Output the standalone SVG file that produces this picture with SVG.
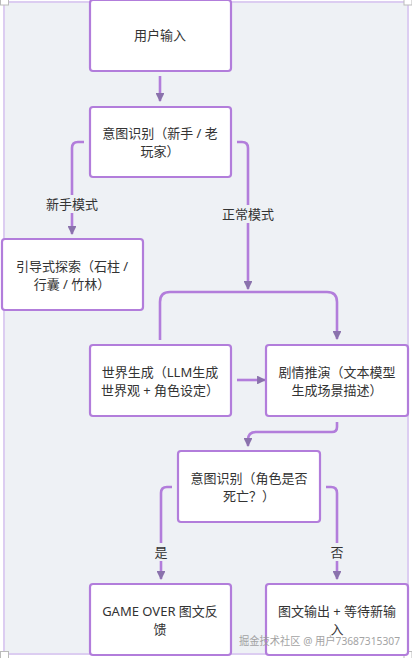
<svg xmlns="http://www.w3.org/2000/svg" width="412" height="658" viewBox="0 0 412 658">
<style>
.node rect{fill:#ffffff;stroke:#b27ddb;stroke-width:2.2}
.node text,.lbl text{font-family:"Noto Sans","Noto Sans CJK SC",sans-serif;font-size:13px;fill:#333333;text-anchor:middle;dominant-baseline:central}
.edge{fill:none;stroke:#b27ddb;stroke-width:2.6}
.lbl rect{fill:#eef1f5}
</style>
<defs>
<marker id="ah" viewBox="0 0 10 10" refX="9" refY="5" markerWidth="3.4" markerHeight="3.4" orient="auto" markerUnits="strokeWidth">
<path d="M0,0 L10,5 L0,10 z" fill="#8a72ac"/>
</marker>
</defs>
<rect x="0" y="0" width="412" height="658" fill="#ffffff"/>
<rect x="4" y="2" width="404" height="652" fill="#eef1f5" stroke="#dccdf1" stroke-width="2"/>
<rect x="0.5" y="-1" width="8" height="6" fill="#ffffff" stroke="#bbbbbb" stroke-width="1"/>
<rect x="404" y="-1" width="8" height="6" fill="#ffffff" stroke="#bbbbbb" stroke-width="1"/>
<rect x="0.5" y="651.5" width="8" height="7" fill="#ffffff" stroke="#bbbbbb" stroke-width="1"/>
<rect x="404" y="651.5" width="8" height="7" fill="#ffffff" stroke="#bbbbbb" stroke-width="1"/>
<g id="connectors">
<path class="edge" d="M160,76 V101" marker-end="url(#ah)"/>
<path class="edge" d="M84,142 H78 Q72,142 72,148 V234" marker-end="url(#ah)"/>
<path class="edge" d="M237,142 H242 Q248,142 248,148 V289" marker-end="url(#ah)"/>
<path class="edge" d="M160,340 V302 Q160,292 170,292 H327 Q337,292 337,302 V339" marker-end="url(#ah)"/>
<path class="edge" d="M237,380 H265" marker-end="url(#ah)"/>
<path class="edge" d="M337,422 V427 Q337,432 332,432 H256 Q248,432 248,440 V446" marker-end="url(#ah)"/>
<path class="edge" d="M172,487 H167 Q161,487 161,493 V579" marker-end="url(#ah)"/>
<path class="edge" d="M326,487 H331 Q337,487 337,493 V579" marker-end="url(#ah)"/>
<g class="lbl"><rect x="44" y="195" width="56" height="18"/><text x="72" y="204">新手模式</text></g>
<g class="lbl"><rect x="220" y="205" width="56" height="18"/><text x="248" y="214">正常模式</text></g>
<g class="lbl"><rect x="153" y="543" width="16" height="18"/><text x="161" y="552">是</text></g>
<g class="lbl"><rect x="329" y="543" width="16" height="18"/><text x="337" y="552">否</text></g>
</g>
<g id="n1" class="node"><rect x="90" y="0" width="141" height="71" rx="3"/><text x="160" y="35">用户输入</text></g>
<g id="n2" class="node"><rect x="90" y="107" width="141" height="70" rx="3"/><text x="160" y="133">意图识别（新手 / 老</text><text x="160" y="151">玩家）</text></g>
<g id="n3" class="node"><rect x="2" y="239" width="141" height="71" rx="3"/><text x="72" y="266">引导式探索（石柱 /</text><text x="72" y="284">行囊 / 竹林）</text></g>
<g id="n4" class="node"><rect x="90" y="345" width="141" height="71" rx="3"/><text x="160" y="372">世界生成（LLM生成</text><text x="160" y="390">世界观 + 角色设定）</text></g>
<g id="n5" class="node"><rect x="266" y="345" width="142" height="71" rx="3"/><text x="337" y="372">剧情推演（文本模型</text><text x="337" y="390">生成场景描述）</text></g>
<g id="n6" class="node"><rect x="178" y="451" width="142" height="71" rx="3"/><text x="249" y="478">意图识别（角色是否</text><text x="249" y="496">死亡？）</text></g>
<g id="n7" class="node"><rect x="90" y="584" width="141" height="71" rx="3"/><text x="160" y="611">GAME OVER 图文反</text><text x="160" y="629">馈</text></g>
<g id="n8" class="node"><rect x="266" y="584" width="142" height="71" rx="3"/><text x="337" y="611">图文输出 + 等待新输</text><text x="337" y="629">入</text></g>
<text x="239" y="645" textLength="161" lengthAdjust="spacingAndGlyphs" font-family="Noto Sans,Noto Sans CJK SC,sans-serif" font-size="11" fill="#9a9a9a" opacity="0.9">掘金技术社区 @ 用户73687315307</text>
</svg>
